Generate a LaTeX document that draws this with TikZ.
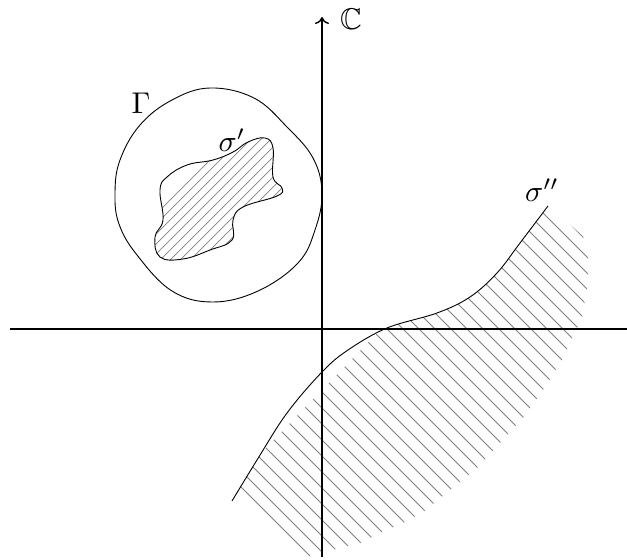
\documentclass[tikz,border=0pt]{standalone}
\usepackage{amssymb}
\usetikzlibrary{arrows.meta}
\begin{document}
\begin{tikzpicture}[x=1pt,y=-1pt,
  axisline/.style={line width=1.7pt,-{To[length=7pt,width=14pt,line width=1.4pt]}},
  curveline/.style={line width=0.9pt},
  hatchline/.style={line width=0.8pt,black!50},
  lbl/.style={inner sep=0pt,scale=3}]
\useasboundingbox (0,0) rectangle (627,560);
% hatching of sigma''
\begin{scope}
  \clip plot[smooth,tension=0.6] coordinates {(232,501) (257,460) (287,413) (322,372) (348,350) (387,328) (437,313) (470,297) (497,273) (520,243) (548,206)}
    -- (583,236) -- (588,258) -- (588,282) -- (582,318) -- (572,338) -- (562,360) -- (543,390) -- (523,418) -- (500,443) -- (477,468) -- (450,490) -- (423,512) -- (403,523) -- (380,533) -- (360,543) -- (332,550) -- (307,557) -- cycle;
  \clip (309,560) -- (232,483) -- (700,0) -- (700,700) -- cycle;
  \foreach \k in {-30,...,20} {
    \draw[hatchline] ({122+16*\k-200},-200) -- ++(900,900);
  }
\end{scope}
% sigma'' boundary
\draw[curveline] plot[smooth,tension=0.6] coordinates {(232,501) (257,460) (287,413) (322,372) (348,350) (387,328) (437,313) (470,297) (497,273) (520,243) (548,206)};
% sigma' blob
\begin{scope}
  \clip plot[smooth cycle,tension=0.7] coordinates {(265,138) (273,148) (273,177) (282,188) (277,196) (243,207) (233,220) (232,240) (210,250) (183,259) (160,257) (155,237) (163,220) (160,190) (167,177) (187,165) (213,160) (233,152) (248,142)};
  \foreach \c in {370,380,...,540} {
    \draw[hatchline,line width=0.7pt] (\c+100,-100) -- ++(-500,500);
  }
\end{scope}
\draw[curveline] plot[smooth cycle,tension=0.7] coordinates {(265,138) (273,148) (273,177) (282,188) (277,196) (243,207) (233,220) (232,240) (210,250) (183,259) (160,257) (155,237) (163,220) (160,190) (167,177) (187,165) (213,160) (233,152) (248,142)};
% Gamma contour
\draw[curveline] plot[smooth cycle,tension=0.65] coordinates {(210,88) (254,98) (287,127) (313,158) (322,193) (315,230) (298,263) (258,291) (213,302) (172,291) (137,255) (119,224) (115,193) (120,160) (140,125) (172,100)};
% axes
\coordinate (xs) at (10,329);
\coordinate (xe) at (634,329);
\coordinate (ys) at (322,557);
\coordinate (ye) at (322,17);
\draw[axisline] (xs) -- (xe);
\draw[axisline] (ys) -- (ye);
% labels
\node[lbl] (cc) at (351,19.5) {$\mathbb{C}$};
\node[lbl] (gam) at (141,103) {$\Gamma$};
\node[lbl] (s1) at (232,140) {$\sigma'$};
\node[lbl] (s2) at (542,190) {$\sigma''$};
\end{tikzpicture}
\end{document}
